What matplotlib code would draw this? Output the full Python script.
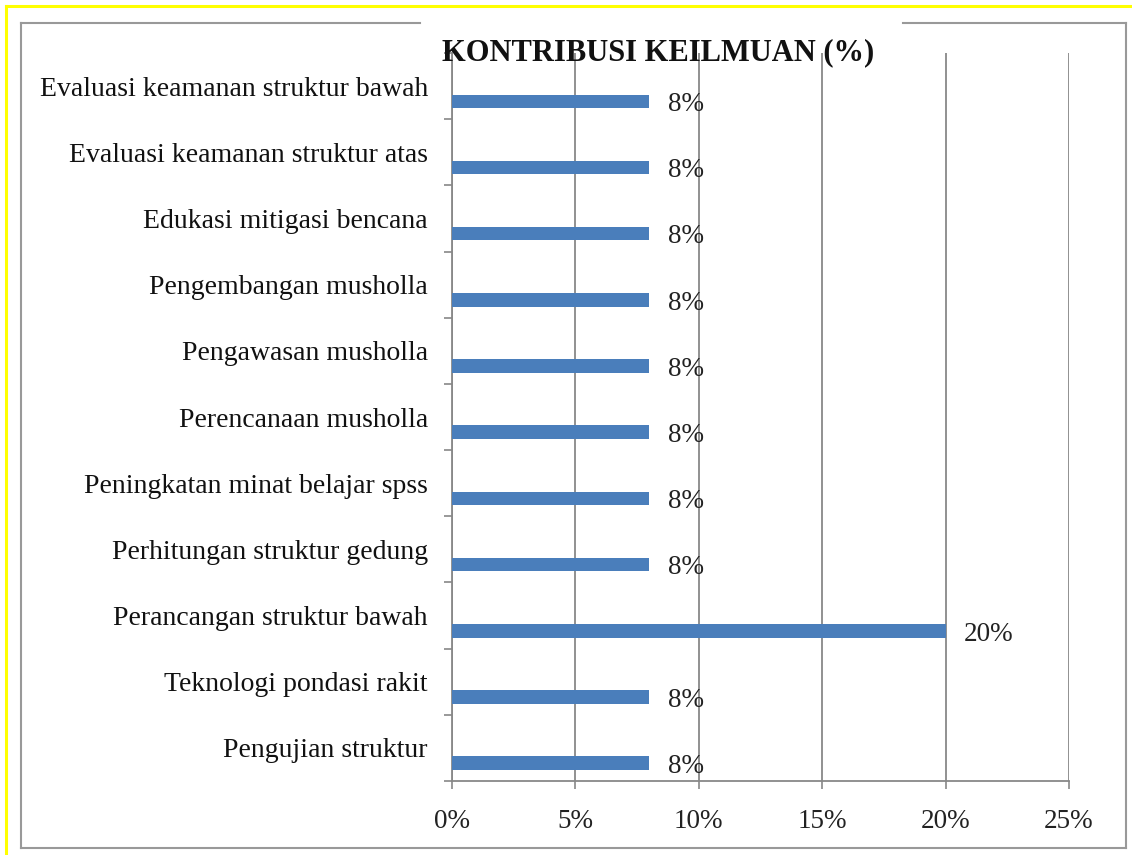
import matplotlib
matplotlib.use("Agg")
import matplotlib.pyplot as plt
from matplotlib.lines import Line2D
from matplotlib.ticker import FixedLocator
import numpy as np

categories = [
    "Pengujian struktur",
    "Teknologi pondasi rakit",
    "Perancangan struktur bawah",
    "Perhitungan struktur gedung",
    "Peningkatan minat belajar spss",
    "Perencanaan musholla",
    "Pengawasan musholla",
    "Pengembangan musholla",
    "Edukasi mitigasi bencana",
    "Evaluasi keamanan struktur atas",
    "Evaluasi keamanan struktur bawah",
]
values = [8, 8, 20, 8, 8, 8, 8, 8, 8, 8, 8]
x_ticks = [0, 5, 10, 15, 20, 25]
x_tick_labels = ["0%", "5%", "10%", "15%", "20%", "25%"]
title = "KONTRIBUSI KEILMUAN (%)"

W, H = 1132, 855
fig = plt.figure(figsize=(W / 100, H / 100), dpi=100)
fig.patch.set_facecolor("white")

def fx(px):
    return px / W

def fy(py):
    return 1 - py / H

# yellow border
fig.add_artist(Line2D([fx(6), fx(1132)], [fy(6), fy(6)], color="#ffff00", lw=2.2))
fig.add_artist(Line2D([fx(6), fx(6)], [fy(6), fy(855)], color="#ffff00", lw=2.2))
# gray frame
fc = "#999999"
fig.add_artist(Line2D([fx(21), fx(420)], [fy(23), fy(23)], color=fc, lw=1.5))
fig.add_artist(Line2D([fx(903), fx(1126)], [fy(23), fy(23)], color=fc, lw=1.5))
fig.add_artist(Line2D([fx(21), fx(21)], [fy(23), fy(848)], color=fc, lw=1.5))
fig.add_artist(Line2D([fx(1126), fx(1126)], [fy(23), fy(848)], color=fc, lw=1.5))
fig.add_artist(Line2D([fx(21), fx(1126)], [fy(848), fy(848)], color=fc, lw=1.5))

left, right, top, bottom = 452, 1069, 53, 781
ax = fig.add_axes([fx(left), fy(bottom), fx(right - left), (bottom - top) / H])

n = len(categories)
pos = np.arange(n)
offset = 0.23
ax.barh(pos - offset, values, height=0.205, color="#4a7ebb", zorder=3)

for p, v in zip(pos, values):
    ax.text(v + 0.75, p - offset - 0.05, f"{v}%", ha="left", va="center",
            fontsize=19.5, family="Liberation Serif", color="#222222", zorder=4)

ax.set_xlim(0, 25)
ax.set_ylim(-0.5, n - 0.5)
ax.set_xticks(x_ticks)
ax.set_xticklabels(x_tick_labels, family="Liberation Serif", fontsize=19.5, color="#222222")
ax.set_yticks(pos)
ax.set_yticklabels(categories, family="Liberation Serif", fontsize=20, color="#111111")
ax.yaxis.set_minor_locator(FixedLocator(np.arange(-0.5, n, 1.0)))
ax.tick_params(axis="y", which="major", length=0, pad=17.3)
ax.tick_params(axis="y", which="minor", length=6, width=1.2, color="#888888", direction="out")
ax.tick_params(axis="x", which="major", length=6, width=1.2, color="#888888", pad=14)
ax.xaxis.grid(True, color="#888888", lw=1.3, zorder=0)
for s in ["top", "right"]:
    ax.spines[s].set_visible(False)
for s in ["left", "bottom"]:
    ax.spines[s].set_color("#888888")
    ax.spines[s].set_linewidth(1.3)

fig.text(fx(658), fy(53), title, ha="center", va="center",
         fontsize=22, fontweight="bold", family="Liberation Serif", color="#111111")

fig.savefig("out.png", dpi=100)
